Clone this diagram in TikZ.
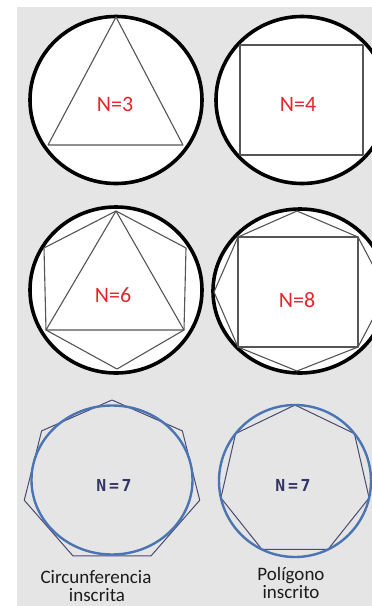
\documentclass[tikz,border=0pt]{standalone}
\usepackage{fontspec}
\setmainfont{Carlito}
\newfontfamily\monof{DejaVu Sans Mono}
\definecolor{bg}{HTML}{E5E5E5}
\definecolor{polyline}{HTML}{555555}
\definecolor{redlab}{HTML}{E5262C}
\definecolor{bluecirc}{HTML}{4A74B4}
\definecolor{navyline}{HTML}{4A4A70}
\definecolor{navytext}{HTML}{34346A}
\definecolor{labtext}{HTML}{1C1C1C}
\tikzset{
  bigcirc/.style={draw=black, line width=3.6pt, fill=white},
  polyedge/.style={draw=polyline, line width=1.1pt, line join=round},
  nlabel/.style={text=redlab, font=\fontsize{22}{24}\selectfont, inner sep=0pt},
  bluering/.style={draw=bluecirc, line width=2.4pt},
  heptline/.style={draw=navyline, line width=1pt, line join=round},
  monolab/.style={text=navytext, font=\monof\bfseries\fontsize{16.5}{18}\selectfont, inner sep=0pt},
  caption/.style={text=labtext, font=\fontsize{19}{20}\selectfont, inner sep=0pt, anchor=base}
}
\begin{document}
\begin{tikzpicture}[x=1pt,y=-1pt]
\useasboundingbox (0,0) rectangle (372,606);
\clip (0,0) rectangle (372,606);
\fill[bg] (17,7) rectangle (372,606);

% ---- row 1: N=3
\draw[bigcirc] (116,100) ellipse [x radius=86pt, y radius=83.5pt];
\coordinate (t1) at (116,17);
\coordinate (t2) at (48,145);
\coordinate (t3) at (183,145);
\draw[polyedge] (t1) -- (t2) -- (t3) -- cycle;
\node[nlabel] (n3) at (115,104) {N=3};

% ---- row 1: N=4
\draw[bigcirc] (302,100) ellipse [x radius=86pt, y radius=83.5pt];
\coordinate (s1) at (240,45);
\coordinate (s2) at (363,45);
\coordinate (s3) at (363,155);
\coordinate (s4) at (240,155);
\draw[polyedge] (s1) -- (s2) -- (s3) -- (s4) -- cycle;
\node[nlabel] (n4) at (298,104) {N=4};

% ---- row 2: N=6
\draw[bigcirc] (116,290) ellipse [x radius=86pt, y radius=83pt];
\coordinate (h1) at (116,211);
\coordinate (h2) at (44,248);
\coordinate (h3) at (46,330);
\coordinate (h4) at (117,369);
\coordinate (h5) at (184,330);
\coordinate (h6) at (186,248);
\draw[polyedge] (h1) -- (h2) -- (h3) -- (h4) -- (h5) -- (h6) -- cycle;
\draw[polyedge] (h1) -- (h3) -- (h5) -- cycle;
\node[nlabel] (n6) at (113,295) {N=6};

% ---- row 2: N=8
\draw[bigcirc] (300,291) ellipse [x radius=87pt, y radius=82pt];
\coordinate (o1) at (297,211);
\coordinate (o2) at (358,237);
\coordinate (o3) at (387,292);
\coordinate (o4) at (358,347);
\coordinate (o5) at (297,371);
\coordinate (o6) at (238,347);
\coordinate (o7) at (214,292);
\coordinate (o8) at (238,237);
\draw[polyedge] (o1) -- (o2) -- (o3) -- (o4) -- (o5) -- (o6) -- (o7) -- (o8) -- cycle;
\draw[polyedge] (o2) -- (o4) -- (o6) -- (o8) -- cycle;
\node[nlabel] (n8) at (297,300) {N=8};

% ---- row 3 left: circumscribed heptagon, inscribed circle
\draw[heptline] ({112+90*cos(90)},{482-82*sin(90)})
  \foreach \k in {1,...,6} { -- ({112+90*cos(90+\k*360/7)},{482-82*sin(90+\k*360/7)}) } -- cycle;
\draw[bluering] (112,480) ellipse [x radius=80.5pt, y radius=74.5pt];
\node[monolab] (n7a) at (114,485) {N\,=\,7};

% ---- row 3 right: inscribed heptagon
\draw[heptline] ({295+76*cos(90)},{481-76*sin(90)})
  \foreach \k in {1,...,6} { -- ({295+76*cos(90+\k*360/7)},{481-76*sin(90+\k*360/7)}) } -- cycle;
\draw[bluering] (295,481) ellipse [x radius=76pt, y radius=76pt];
\node[monolab] (n7b) at (293,485) {N\,=\,7};

% ---- captions
\node[caption] (c1) at (96,583) {Circunferencia};
\node[caption] (c2) at (97,601) {inscrita};
\node[caption] (p1) at (291,580) {Polígono};
\node[caption] (p2) at (291,598) {inscrito};
\end{tikzpicture}
\end{document}
